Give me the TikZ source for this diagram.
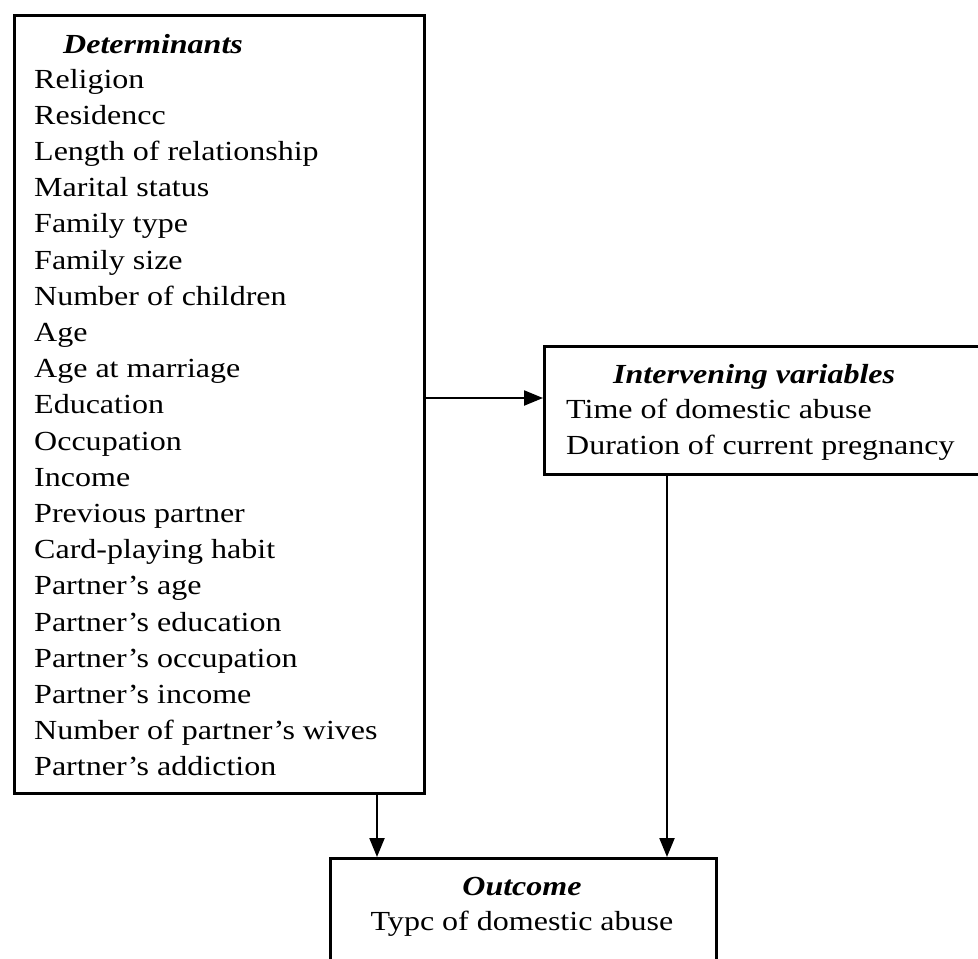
\documentclass[tikz,border=0pt]{standalone}
\usepackage{fontspec}
\setmainfont{Liberation Serif}[FakeStretch=1.16]
\usetikzlibrary{arrows.meta}
\tikzset{
  box/.style={draw=black, line width=2.6pt, rectangle, inner sep=0pt, anchor=north west},
  txt/.style={anchor=base west, inner sep=0pt, font=\fontsize{27.6}{33}\selectfont},
  head/.style={txt, font=\fontsize{27.6}{33}\selectfont\bfseries\itshape},
  arr/.style={line width=2.2pt, -{Triangle[length=19pt,width=15pt]}}
}
\begin{document}
\begin{tikzpicture}[x=1pt,y=-1pt]
\useasboundingbox (0,0) rectangle (978,959);
\fill[white] (0,0) rectangle (978,959);
\clip (0,0) rectangle (978,959);
% boxes
\node[box, minimum width=410pt, minimum height=778pt] (det) at (13,14) {};
\node[box, minimum width=460pt, minimum height=128pt] (int) at (543,345) {};
\node[box, minimum width=386pt, minimum height=160pt] (out) at (329,857) {};
% determinants text
\node[head] (dh) at (63,53) {Determinants};
\foreach \t [count=\i from 0] in {Religion,Residencc,Length of relationship,Marital status,Family type,Family size,Number of children,Age,Age at marriage,Education,Occupation,Income,Previous partner,Card-playing habit,Partner’s age,Partner’s education,Partner’s occupation,Partner’s income,Number of partner’s wives,Partner’s addiction}
  \node[txt] (d\i) at (34,88+36.2*\i) {\t};
% intervening text
\node[head] (ih) at (613,383) {Intervening variables};
\node[txt] (i1) at (566,418) {Time of domestic abuse};
\node[txt] (i2) at (566,454) {Duration of current pregnancy};
% outcome text
\node[head, anchor=base] (oh) at (522,895) {Outcome};
\node[txt, anchor=base] (o1) at (522,930) {Typc of domestic abuse};
% connectors
\coordinate (hy) at (0,398);
\coordinate (ax1) at (377,0);
\coordinate (ax2) at (667,0);
\draw[arr] (det.east |- hy) -- (int.west |- hy);
\draw[arr] (det.south -| ax1) -- (out.north -| ax1);
\draw[arr] (int.south -| ax2) -- (out.north -| ax2);
\end{tikzpicture}
\end{document}
